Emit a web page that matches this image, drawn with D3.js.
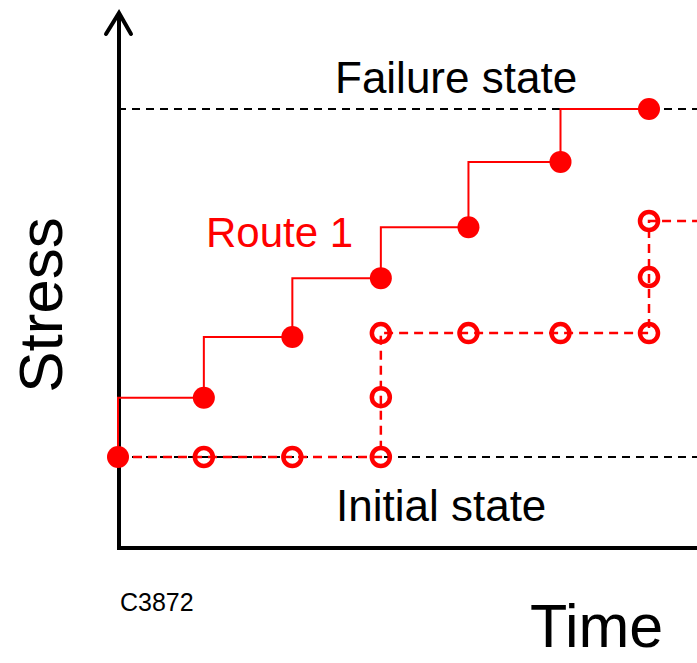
<!DOCTYPE html>
<html>
<head>
<meta charset="utf-8">
<script src="https://cdn.jsdelivr.net/npm/d3@7"></script>
<style>
  html, body { margin: 0; padding: 0; background: #fff; }
  svg { display: block; font-family: "Liberation Sans", Arial, sans-serif; }
</style>
</head>
<body>
<svg id="chart" width="697" height="663"></svg>
<script>
// ---- Data (time steps, stress levels) ----
const timeSteps = [0, 1, 2, 3, 4, 5, 6];
const initialStress = 0;
const failureStress = 10;
// Route 1: steady stepped increase (filled markers)
const route1Time   = [0, 0.97, 1.97, 2.97, 3.96, 5, 6];
const route1Stress = [0, 1.7, 3.45, 5.14, 6.6, 8.48, 10];
// Route 2: flat then stepping (open markers, dashed)
const route2Time   = [0, 0.97, 1.97, 2.97, 2.97, 2.97, 3.96, 5, 6, 6, 6];
const route2Stress = [0, 0, 0, 0, 1.72, 3.56, 3.56, 3.56, 3.56, 5.17, 6.78];
const labels = { failure: "Failure state", initial: "Initial state", route: "Route 1",
                 xTitle: "Time", yTitle: "Stress", code: "C3872" };

// ---- Layout ----
const W = 697, H = 663;
const axisX = 119, axisY = 548, axisTop = 13;
const red = "#ff0000";

const svg = d3.select("#chart");
const x = d3.scaleLinear().domain([0, 6]).range([118, 649]);
const y = d3.scaleLinear().domain([0, 10]).range([457, 109]);

// Reference dashed lines (failure & initial)
[failureStress, initialStress].forEach(s => {
  svg.append("line")
    .attr("x1", x(0)).attr("x2", W + 10)
    .attr("y1", y(s)).attr("y2", y(s))
    .attr("stroke", "#000").attr("stroke-width", 2)
    .attr("stroke-dasharray", "8,6");
});

// Axes
svg.append("line").attr("x1", axisX).attr("x2", axisX)
  .attr("y1", axisY + 2).attr("y2", axisTop + 2)
  .attr("stroke", "#000").attr("stroke-width", 4);
svg.append("line").attr("x1", axisX - 2).attr("x2", W + 10)
  .attr("y1", axisY).attr("y2", axisY)
  .attr("stroke", "#000").attr("stroke-width", 4);
svg.append("polyline")
  .attr("points", `${axisX - 13},${axisTop + 21} ${axisX},${axisTop} ${axisX + 12},${axisTop + 21}`)
  .attr("fill", "none").attr("stroke", "#000").attr("stroke-width", 4)
  .attr("stroke-linecap", "round").attr("stroke-linejoin", "miter");

// Route 2 (dashed, open circles)
const r2 = route2Time.map((t, i) => [t, route2Stress[i]]);
const lineLin = d3.line().x(d => x(d[0])).y(d => y(d[1]));
svg.append("path")
  .attr("d", lineLin(r2.concat([[7, route2Stress[route2Stress.length - 1]]])))
  .attr("fill", "none").attr("stroke", red).attr("stroke-width", 2.5)
  .attr("stroke-dasharray", "9,6");

// Route 1 (solid stepped line)
const r1 = route1Time.map((t, i) => [t, route1Stress[i]]);
const stepLine = d3.line().x(d => x(d[0])).y(d => y(d[1])).curve(d3.curveStepBefore);
svg.append("path").attr("d", stepLine(r1))
  .attr("fill", "none").attr("stroke", red).attr("stroke-width", 2);

// Markers
svg.selectAll("circle.r2").data(r2.slice(1)).enter().append("circle")
  .attr("class", "r2")
  .attr("cx", d => x(d[0])).attr("cy", d => y(d[1])).attr("r", 9)
  .attr("fill", "none").attr("stroke", red).attr("stroke-width", 4.5);
svg.selectAll("circle.r1").data(r1).enter().append("circle")
  .attr("class", "r1")
  .attr("cx", d => x(d[0])).attr("cy", d => y(d[1])).attr("r", 11)
  .attr("fill", red);

// Text labels
svg.append("text").attr("x", 335).attr("y", 93).attr("font-size", 44)
  .attr("fill", "#000").text(labels.failure);
svg.append("text").attr("x", 336).attr("y", 521).attr("font-size", 44)
  .attr("fill", "#000").text(labels.initial);
svg.append("text").attr("x", 206).attr("y", 247).attr("font-size", 42)
  .attr("fill", red).text(labels.route);
svg.append("text").attr("x", 530).attr("y", 647).attr("font-size", 61)
  .attr("fill", "#000").text(labels.xTitle);
svg.append("text").attr("transform", "translate(62,305) rotate(-90)")
  .attr("text-anchor", "middle").attr("font-size", 62)
  .attr("fill", "#000").text(labels.yTitle);
svg.append("text").attr("x", 120).attr("y", 611).attr("font-size", 25)
  .attr("fill", "#000").text(labels.code);
</script>
</body>
</html>
